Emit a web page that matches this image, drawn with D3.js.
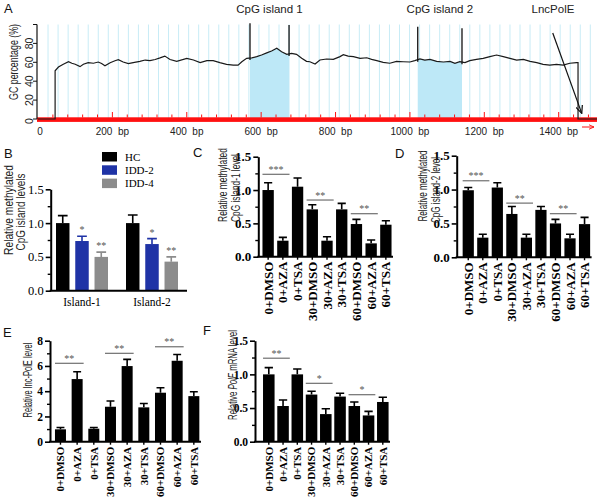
<!DOCTYPE html>
<html lang="en">
<head>
<meta charset="UTF-8">
<title>CpG islands and PolE methylation</title>
<style>
  body { margin: 0; background: #fff; }
  svg { display: block; }
  text { font-family: Arial, "Liberation Sans", sans-serif; }
</style>
</head>
<body>
<script src="https://cdnjs.cloudflare.com/ajax/libs/d3/7.8.5/d3.min.js"></script>
<script>

const serif = "'Times New Roman', 'Liberation Serif', serif"

// ---- panel A : GC content along the promoter (bp, %)
const gcPos = [0, 46, 46, 55, 68, 82, 91, 100, 113, 122, 135, 149, 162, 171, 180, 194, 207, 216, 229, 243,
    256, 274, 288, 301, 315, 328, 341, 355, 373, 400, 418, 436, 454, 471, 489, 507, 525, 538, 548, 561,
    575, 588, 601, 615, 628, 642, 655, 669, 682, 695, 709, 722, 731, 745, 758, 776, 794, 812, 821, 834,
    848, 866, 884, 897, 911, 928, 946, 964, 982, 1000, 1013, 1027, 1040, 1054, 1072, 1090, 1108, 1121, 1134, 1148,
    1161, 1179, 1197, 1215, 1233, 1251, 1269, 1287, 1305, 1323, 1341, 1358, 1376, 1394, 1412, 1430, 1448, 1452, 1452, 1503]
const gcVal = [0, 0, 51, 55, 58, 60.6, 59, 58, 55.4, 58, 59.6, 59, 60.3, 58.7, 56.4, 59.6, 61.7, 62.8, 60.3, 58.7,
    59.6, 61, 62.4, 61.7, 63, 64.7, 66.6, 63, 61, 64.2, 62.4, 59.6, 61.7, 61.7, 59.6, 57.8, 57, 57, 60.6, 64.2,
    64.7, 66, 67.7, 70, 72, 74.8, 71.2, 68.4, 69.5, 68.4, 64.2, 61, 60.6, 58.2, 62.4, 63.5, 63.1, 66, 68, 66.6,
    66, 64.2, 64.8, 63.1, 61.7, 60, 59, 61, 60.6, 60.3, 61.7, 63.5, 62.4, 63, 61, 60.3, 61, 59, 60.6, 59.6,
    61.7, 63.1, 64.2, 66, 67.7, 66, 64.2, 62.4, 63, 61, 59.6, 57.8, 57, 57.8, 57, 59, 59.6, 59.6, 0, 0]
const islandNames = ["CpG island 1", "CpG island 2"]
const islandStart = [570, 1021]
const islandEnd = [675, 1140]
const bpLabels = [0, 200, 400, 600, 800, 1000, 1200, 1400]
const gcTicks = [0, 20, 40, 60, 80]

// ---- panel B
const groupsB = ["Island-1", "Island-2"]
const seriesB = ["HC", "IDD-2", "IDD-4"]
const meanB = [[1.0, 0.735, 0.50], [1.0, 0.69, 0.43]]
const errB = [[0.11, 0.07, 0.07], [0.12, 0.08, 0.07]]
const starsB = ["", "*", "**"]

// ---- panels C-F : same nine treatments
const treatments = ["0+DMSO", "0+AZA", "0+TSA", "30+DMSO", "30+AZA", "30+TSA", "60+DMSO", "60+AZA", "60+TSA"]
const meanC = [1.0, 0.24, 1.05, 0.71, 0.24, 0.71, 0.49, 0.20, 0.48]
const errC = [0.11, 0.05, 0.13, 0.07, 0.06, 0.09, 0.07, 0.05, 0.06]
const meanD = [0.99, 0.29, 1.03, 0.64, 0.29, 0.70, 0.50, 0.28, 0.49]
const errD = [0.04, 0.05, 0.07, 0.11, 0.05, 0.05, 0.06, 0.06, 0.10]
const meanE = [0.98, 4.96, 1.03, 2.77, 5.99, 2.72, 3.88, 6.41, 3.61]
const errE = [0.15, 0.58, 0.10, 0.45, 0.53, 0.31, 0.39, 0.50, 0.35]
const meanF = [1.0, 0.53, 1.0, 0.70, 0.41, 0.67, 0.53, 0.39, 0.59]
const errF = [0.10, 0.09, 0.08, 0.05, 0.08, 0.05, 0.06, 0.06, 0.07]
// significance: [first bar, second bar, height, stars]
const sigC = [[0, 1, 1.236, "***"], [3, 4, 0.85, "**"], [6, 7, 0.645, "**"]]
const sigD = [[0, 1, 1.13, "***"], [3, 4, 0.80, "**"], [6, 7, 0.644, "**"]]
const sigE = [[0, 1, 6.21, "**"], [3, 4, 7.0, "**"], [6, 7, 7.52, "**"]]
const sigF = [[0, 1, 1.24, "**"], [3, 4, 0.867, "*"], [6, 7, 0.698, "*"]]

const svg = d3.select("body").append("svg")
    .attr("width", 601)
    .attr("height", 501)

// rotated label, squeezed along its length to fit len px (the figure uses a narrow face)
function rotLabel(g, txt, cx, cy, len, size, build) {
    const t = g.append("text")
        .attr("text-anchor", "middle")
        .attr("dy", "0.35em")
        .attr("font-size", size || 12)
        .attr("fill", "#222")
    if (build) build(t)
    else t.text(txt)
    let k = 1
    if (len) k = len / t.node().getComputedTextLength()
    t.attr("transform", `translate(${cx},${cy}) rotate(-90) scale(${k},1)`)
    return t
}

function panelLetter(txt, x, y) {
    svg.append("text").attr("x", x).attr("y", y).attr("font-size", 13).attr("fill", "#111").text(txt)
}

// ================= A
const gA = svg.append("g")
const xA = d3.scaleLinear().domain([0, 1503]).range([38, 597])
const yA = d3.scaleLinear().domain([0, 100]).range([119, 24.5])
const gc = gcPos.map((p, i) => ({ p: p, v: gcVal[i] }))

function gcAt(bp) {
    const i = d3.bisector(d => d.p).right(gc, bp)
    const a = gc[i - 1], b = gc[i]
    return a.v + (b.v - a.v) * (bp - a.p) / (b.p - a.p)
}

gA.selectAll(".grid")
    .data(d3.range(27, 1503, 27))
    .enter()
    .append("line")
        .attr("x1", d => xA(d)).attr("x2", d => xA(d))
        .attr("y1", yA(100)).attr("y2", yA(0))
        .attr("stroke", "#c8ecf6")
        .attr("stroke-width", 1)

const area = d3.area().x(d => xA(d.p)).y0(yA(0)).y1(d => yA(d.v))
islandNames.forEach((name, i) => {
    svg.append("clipPath").attr("id", "isl" + i)
        .append("rect")
            .attr("x", xA(islandStart[i])).attr("width", xA(islandEnd[i]) - xA(islandStart[i]))
            .attr("y", 0).attr("height", 130)
    gA.append("path").datum(gc)
        .attr("d", area)
        .attr("clip-path", `url(#isl${i})`)
        .attr("fill", "#bde8f7")
    gA.append("text")
        .attr("x", xA((islandStart[i] + islandEnd[i]) / 2))
        .attr("y", 13)
        .attr("text-anchor", "middle")
        .attr("font-size", 11.5)
        .attr("fill", "#222")
        .text(name)
})

// red sequence bar with ticks
gA.append("rect").attr("x", 37).attr("y", 117.3).attr("width", 560).attr("height", 4.6).attr("fill", "#ff1010")
gA.selectAll(".rt")
    .data(d3.range(40, 1503, 40))
    .enter()
    .append("line")
        .attr("x1", d => xA(d)).attr("x2", d => xA(d))
        .attr("y1", 117.5).attr("y2", d => d % 200 === 0 ? 112 : 114.5)
        .attr("stroke", "#ff1010").attr("stroke-width", 1)

gA.append("path").datum(gc)
    .attr("d", d3.line().x(d => xA(d.p)).y(d => yA(d.v)))
    .attr("fill", "none")
    .attr("stroke", "#1a1a1a")
    .attr("stroke-width", 1.2)

// island boundary markers
const markTop = [[101.3, 99.5], [97.7, 96]]
islandNames.forEach((n, i) => {
    [islandStart[i], islandEnd[i]].forEach((bp, k) => {
        gA.append("line")
            .attr("x1", xA(bp)).attr("x2", xA(bp))
            .attr("y1", yA(markTop[i][k])).attr("y2", yA(gcAt(bp)) + 2)
            .attr("stroke", "#111").attr("stroke-width", 1.3)
    })
})

// y axis A
gA.append("line").attr("x1", 37).attr("x2", 37).attr("y1", yA(100)).attr("y2", yA(0))
    .attr("stroke", "#111").attr("stroke-width", 1.2)
gA.selectAll(".yt")
    .data([0, 20, 40, 60, 80, 100])
    .enter()
    .append("line")
        .attr("x1", 33).attr("x2", 37)
        .attr("y1", d => yA(d)).attr("y2", d => yA(d))
        .attr("stroke", "#111")
gcTicks.forEach(v => rotLabel(gA, v, 29.5, yA(v) + (v === 0 ? 2 : 0), null, 10.5))
rotLabel(gA, "GC percentage (%)", 13.5, 62, 76, 12.5)

bpLabels.forEach(b => {
    gA.append("text")
        .attr("x", b === 0 ? xA(0) + 2 : xA(b))
        .attr("y", 134.5)
        .attr("text-anchor", "middle")
        .attr("font-size", 10)
        .attr("fill", "#222")
        .text(b === 0 ? "0" : b + "\u00a0\u00a0bp")
})

// LncPolE pointer
const defs = svg.append("defs")
defs.append("marker").attr("id", "vhead").attr("viewBox", "0 0 10 10")
    .attr("refX", 9).attr("refY", 5).attr("markerWidth", 7).attr("markerHeight", 7)
    .attr("orient", "auto")
    .append("path").attr("d", "M0,1 L9,5 L0,9").attr("fill", "none").attr("stroke", "#111").attr("stroke-width", 1.5)
defs.append("marker").attr("id", "rhead").attr("viewBox", "0 0 10 10")
    .attr("refX", 9).attr("refY", 5).attr("markerWidth", 6).attr("markerHeight", 6)
    .attr("orient", "auto")
    .append("path").attr("d", "M0,1 L9,5 L0,9").attr("fill", "none").attr("stroke", "#ff1010").attr("stroke-width", 1.5)

gA.append("text").attr("x", 553).attr("y", 13).attr("text-anchor", "middle")
    .attr("font-size", 11.5).attr("fill", "#222").text("LncPolE")
gA.append("line")
    .attr("x1", xA(1384)).attr("y1", yA(91))
    .attr("x2", xA(1462)).attr("y2", yA(6))
    .attr("stroke", "#111").attr("stroke-width", 1.2)
    .attr("marker-end", "url(#vhead)")
gA.append("line")
    .attr("x1", 582).attr("x2", 594).attr("y1", 127).attr("y2", 127)
    .attr("stroke", "#ff1010").attr("stroke-width", 1)
    .attr("marker-end", "url(#rhead)")

panelLetter("A", 4, 13)

// ================= generic bar panel
function styleYAxis(g, size, bold) {
    g.select(".domain").attr("stroke", "#000").attr("stroke-width", 2)
    g.selectAll(".tick line").attr("stroke", "#000").attr("stroke-width", 1.6)
    g.selectAll(".tick text")
        .style("font-family", serif)
        .style("font-weight", bold ? "bold" : "normal")
        .attr("font-size", size)
        .attr("fill", "#000")
}

function yAxes(g, y, x0, major, minor, fmt, size, bold) {
    const ga = g.append("g").attr("transform", `translate(${x0},0)`)
        .call(d3.axisLeft(y).tickValues(major).tickFormat(fmt).tickSize(5).tickSizeOuter(0).tickPadding(2))
    styleYAxis(ga, size, bold)
    const gm = g.append("g").attr("transform", `translate(${x0},0)`)
        .call(d3.axisLeft(y).tickValues(minor).tickFormat("").tickSize(3))
    gm.select(".domain").remove()
    gm.selectAll(".tick line").attr("stroke", "#000").attr("stroke-width", 1.4)
}

function treatmentPanel(cfg) {
    const g = svg.append("g")
    const x = d3.scaleBand().domain(treatments).range(cfg.xr).paddingInner(cfg.pad).paddingOuter(0.1)
    const y = d3.scaleLinear().domain(cfg.ydom).range(cfg.yr)
    const bw = x.bandwidth()
    const rows = treatments.map((t, i) => ({ t: t, m: cfg.mean[i], e: cfg.err[i] }))

    // error bars first so bars cover the lower half
    g.selectAll(".eb").data(rows).enter().append("path")
        .attr("d", d => {
            const cx = x(d.t) + bw / 2, top = y(d.m + d.e), w = bw * 0.36
            return `M${cx},${y(d.m)}V${top}M${cx - w},${top}H${cx + w}`
        })
        .attr("stroke", "#000").attr("stroke-width", 1.6).attr("fill", "none")
    g.selectAll("rect").data(rows).enter().append("rect")
        .attr("x", d => x(d.t))
        .attr("y", d => y(d.m))
        .attr("width", bw)
        .attr("height", d => y(0) - y(d.m))
        .attr("fill", "#000")

    yAxes(g, y, cfg.x0, cfg.major, cfg.minor, cfg.fmt, cfg.tickSize, true)

    // x axis
    const gx = g.append("g").attr("transform", `translate(0,${y(0)})`)
        .call(d3.axisBottom(x).tickSize(3).tickSizeOuter(0))
    gx.select(".domain").remove()
    gx.selectAll(".tick line").attr("stroke", "#000").attr("stroke-width", 1.4)
    gx.selectAll(".tick text")
        .attr("transform", "rotate(-90)")
        .attr("text-anchor", "end")
        .attr("x", -5).attr("y", 0).attr("dy", "0.35em")
        .style("font-family", serif).style("font-weight", "bold")
        .attr("font-size", cfg.catSize).attr("fill", "#000")
    g.append("line").attr("x1", cfg.x0 - 1).attr("x2", cfg.xr[1]).attr("y1", y(0)).attr("y2", y(0))
        .attr("stroke", "#000").attr("stroke-width", 2)

    // significance
    cfg.sig.forEach(s => {
        const x1 = x(treatments[s[0]]), x2 = x(treatments[s[1]]) + bw + 1
        g.append("line").attr("x1", x1).attr("x2", x2).attr("y1", y(s[2])).attr("y2", y(s[2]))
            .attr("stroke", "#6f6f6f").attr("stroke-width", 1.2)
        g.append("text").attr("x", (x1 + x2) / 2).attr("y", y(s[2]) - 1.5)
            .attr("text-anchor", "middle")
            .style("font-family", serif).attr("font-size", 10).attr("fill", "#555")
            .text(s[3])
    })

    cfg.ylab.forEach(l => {
        rotLabel(g, l.txt, l.cx, l.cy, l.len, 12.5, l.italic ? t => {
            t.append("tspan").text("Relative ")
            t.append("tspan").attr("font-style", "italic").text("PolE")
            t.append("tspan").text(" mRNA level")
        } : null)
    })
}

// ================= B
{
    const g = svg.append("g")
    const y = d3.scaleLinear().domain([0, 1.5]).range([290.7, 189.3])
    const xg = d3.scalePoint().domain(groupsB).range([82, 152])
    const xs = d3.scaleBand().domain(seriesB).range([-26, 26]).paddingInner(0.3)
    const color = d3.scaleOrdinal().domain(seriesB).range(["#000000", "#1f33a6", "#8c8c8c"])
    const bw = xs.bandwidth()
    const rows = []
    groupsB.forEach((gr, i) => seriesB.forEach((s, j) =>
        rows.push({ g: gr, s: s, m: meanB[i][j], e: errB[i][j], star: starsB[j] })))

    g.selectAll(".eb").data(rows).enter().append("path")
        .attr("d", d => {
            const cx = xg(d.g) + xs(d.s) + bw / 2, top = y(d.m + d.e), w = bw * 0.36
            return `M${cx},${y(d.m)}V${top}M${cx - w},${top}H${cx + w}`
        })
        .attr("stroke", d => color(d.s)).attr("stroke-width", 1.6).attr("fill", "none")
    g.selectAll("rect").data(rows).enter().append("rect")
        .attr("x", d => xg(d.g) + xs(d.s))
        .attr("y", d => y(d.m))
        .attr("width", bw)
        .attr("height", d => y(0) - y(d.m))
        .attr("fill", d => color(d.s))
    g.selectAll(".star").data(rows.filter(d => d.star)).enter().append("text")
        .attr("x", d => xg(d.g) + xs(d.s) + bw / 2)
        .attr("y", d => y(d.m + d.e) - 3)
        .attr("text-anchor", "middle")
        .style("font-family", serif).attr("font-size", 10).attr("fill", "#555")
        .text(d => d.star)

    yAxes(g, y, 50.7, [0, 0.5, 1.0, 1.5], [0.25, 0.75, 1.25], d3.format(".1f"), 12.5, false)
    g.append("line").attr("x1", 49.7).attr("x2", 187).attr("y1", y(0)).attr("y2", y(0))
        .attr("stroke", "#000").attr("stroke-width", 2)
    groupsB.forEach(gr => g.append("text")
        .attr("x", xg(gr)).attr("y", 306).attr("text-anchor", "middle")
        .style("font-family", serif).attr("font-size", 11.5).attr("fill", "#000").text(gr))

    seriesB.forEach((s, j) => {
        g.append("rect").attr("x", 102).attr("y", 152 + j * 13.3).attr("width", 15).attr("height", 9.5)
            .attr("fill", color(s))
        g.append("text").attr("x", 125).attr("y", 160.5 + j * 13.3)
            .style("font-family", serif).attr("font-size", 11).attr("fill", "#000").text(s)
    })
    rotLabel(g, "Relative methylated", 8, 210, 90, 13)
    rotLabel(g, "CpG island levels", 20.5, 212, 77, 13)
}
panelLetter("B", 4, 158)

// ================= C, D, E, F
treatmentPanel({
    mean: meanC, err: errC, sig: sigC,
    xr: [261, 393], pad: 0.23, x0: 258.3,
    ydom: [0, 1.5], yr: [256.7, 156.7],
    major: [0, 0.5, 1.0, 1.5], minor: [0.25, 0.75, 1.25], fmt: d3.format(".1f"),
    tickSize: 13, catSize: 13,
    ylab: [{ txt: "Relative methylated", cx: 222.5, cy: 185, len: 74 },
           { txt: "CpG island-1 level", cx: 236, cy: 188, len: 68 }]
})
panelLetter("C", 193, 157)

treatmentPanel({
    mean: meanD, err: errD, sig: sigD,
    xr: [461.2, 591.6], pad: 0.23, x0: 456.7,
    ydom: [0, 1.5], yr: [257.3, 155.7],
    major: [0, 0.5, 1.0, 1.5], minor: [0.25, 0.75, 1.25], fmt: d3.format(".1f"),
    tickSize: 13, catSize: 13,
    ylab: [{ txt: "Relative methylated", cx: 422.5, cy: 186, len: 71 },
           { txt: "CpG island-2 level", cx: 436, cy: 190, len: 66 }]
})
panelLetter("D", 395, 158)

treatmentPanel({
    mean: meanE, err: errE, sig: sigE,
    xr: [53.3, 201], pad: 0.34, x0: 50,
    ydom: [0, 8], yr: [441.7, 340.7],
    major: [0, 2, 4, 6, 8], minor: [1, 3, 5, 7], fmt: d3.format("d"),
    tickSize: 11.5, catSize: 11,
    ylab: [{ txt: "Relative lnc-PolE level", cx: 27.5, cy: 380, len: 75 }]
})
panelLetter("E", 3, 337)

treatmentPanel({
    mean: meanF, err: errF, sig: sigF,
    xr: [261.6, 390], pad: 0.19, x0: 255,
    ydom: [0, 1.5], yr: [441.7, 340.7],
    major: [0, 0.5, 1.0, 1.5], minor: [0.25, 0.75, 1.25], fmt: d3.format(".1f"),
    tickSize: 11.5, catSize: 11,
    ylab: [{ txt: "Relative PolE mRNA level", cx: 233, cy: 375, len: 90, italic: true }]
})
panelLetter("F", 203, 335)

</script>
</body>
</html>
